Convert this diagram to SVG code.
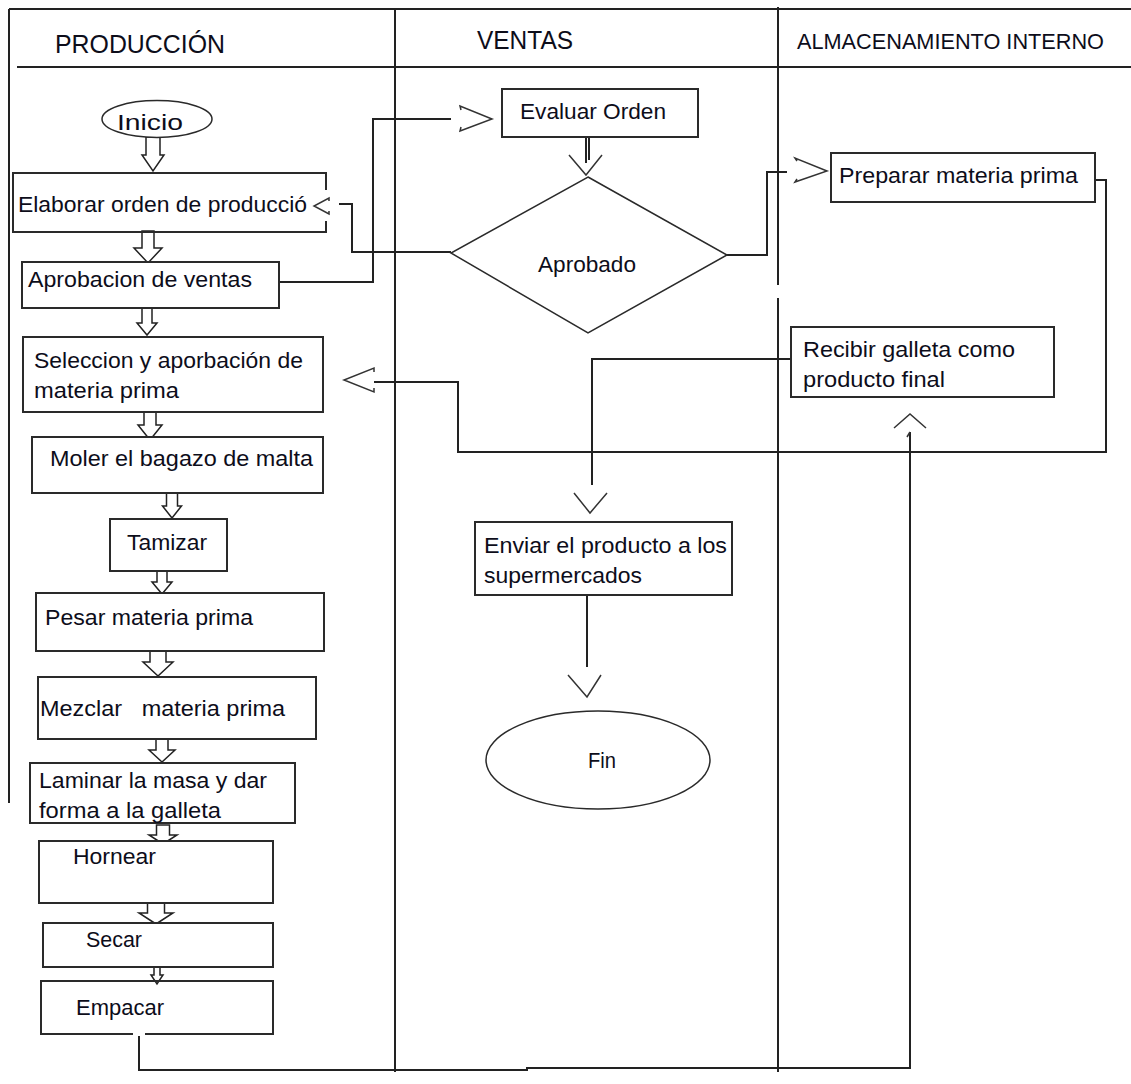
<svg xmlns="http://www.w3.org/2000/svg" width="1131" height="1084" viewBox="0 0 1131 1084">
<style>
  text { font-family: "Liberation Sans", Arial, sans-serif; font-size: 22px; fill: #0d0d1a; }
  .hdr { font-size: 25px; }
  .box { fill: #fff; stroke: #2a2a2a; stroke-width: 2; }
  .open { fill: none; stroke: #2a2a2a; stroke-width: 2; }
  .thin { fill: #fff; stroke: #2a2a2a; stroke-width: 1.5; }
  .lane { stroke: #222; stroke-width: 2; fill: none; }
  .con { stroke: #222; stroke-width: 2; fill: none; }
  .head { stroke: #333; stroke-width: 1.5; fill: none; }
  .blk { fill: #fff; stroke: #222; stroke-width: 1.5; }
</style>
<rect x="0" y="0" width="1131" height="1084" fill="#fff"/>

<g id="lanes">
  <line class="lane" x1="9" y1="9" x2="1131" y2="9"/>
  <line class="lane" x1="9" y1="9" x2="9" y2="803"/>
  <line class="lane" x1="17" y1="67" x2="1131" y2="67"/>
  <line class="lane" x1="395" y1="9" x2="395" y2="1072"/>
  <line class="lane" x1="778" y1="7" x2="778" y2="285"/>
  <line class="lane" x1="778" y1="298" x2="778" y2="1072"/>
  <text class="hdr" x="55" y="53" textLength="170" lengthAdjust="spacingAndGlyphs">PRODUCCIÓN</text>
  <text class="hdr" x="477" y="49" textLength="96" lengthAdjust="spacingAndGlyphs">VENTAS</text>
  <text x="797" y="49" textLength="307" lengthAdjust="spacingAndGlyphs">ALMACENAMIENTO INTERNO</text>
</g>

<g id="connectors">
  <!-- block arrows in Produccion lane -->
  <path class="blk" d="M146,137 L160,137 L160,155 L164,155 L153,171 L142,155 L146,155 Z"/>
  <path class="blk" d="M142,231 L154,231 L154,248 L162,248 L148,263 L134,248 L142,248 Z"/>
  <path class="blk" d="M142,308 L152,308 L152,323 L157,323 L147,335 L137,323 L142,323 Z"/>
  <path class="blk" d="M144,412 L156,412 L156,425 L162,425 L150,440 L138,425 L144,425 Z"/>
  <path class="blk" d="M166.5,493 L177.5,493 L177.5,506 L181.5,506 L172,518 L162.5,506 L166.5,506 Z"/>
  <path class="blk" d="M157,571 L167,571 L167,582 L172,582 L162,594 L152,582 L157,582 Z"/>
  <path class="blk" d="M150,651 L166,651 L166,662 L173,662 L158,676 L143,662 L150,662 Z"/>
  <path class="blk" d="M156,739 L168,739 L168,750 L175,750 L162,762 L149,750 L156,750 Z"/>
  <path class="blk" d="M156.5,825 L169.5,825 L169.5,835 L177,835 L163,844 L149,835 L156.5,835 Z"/>
  <path class="blk" d="M147.5,903 L164.5,903 L164.5,913 L173,913 L156,924 L139,913 L147.5,913 Z"/>
  <path class="blk" d="M154,967 L160,967 L160,975 L163,975 L157,984 L151,975 L154,975 Z"/>

  <!-- Aprobacion de ventas -> Evaluar Orden -->
  <polyline class="con" points="279,282 373,282 373,119 451,119"/>
  <path class="head" d="M461,110 L460,106 L492,119 L460,131 L461,127"/>

  <!-- Evaluar Orden -> Aprobado -->
  <line class="con" x1="586" y1="134" x2="586" y2="163" stroke-width="1.5"/>
  <line class="con" x1="589" y1="134" x2="589" y2="160" stroke-width="1.5"/>
  <path class="head" d="M569,155 L586,175 L602,155"/>

  <!-- Aprobado (left) -> Elaborar orden -->
  <polyline class="con" points="451,252 352,252 352,204 339,204"/>

  <!-- Aprobado (right) -> Preparar materia prima -->
  <polyline class="con" points="727,255 767,255 767,172 787,172"/>
  <path class="head" d="M797,161 L795,158 L827,171 L795,182 L797,179"/>

  <!-- Preparar materia prima -> Seleccion -->
  <polyline class="con" points="1095,180 1106,180 1106,452 458,452 458,382 374,382"/>
  <path class="head" d="M374,372 L374,368 L344,380 L374,392 L374,388" stroke-width="1.8"/>

  <!-- Recibir galleta -> Enviar producto -->
  <polyline class="con" points="791,359 592,359 592,485"/>
  <path class="head" d="M574,493 L590,513 L607,493"/>

  <!-- Enviar -> Fin -->
  <line class="con" x1="587" y1="595" x2="587" y2="667"/>
  <path class="head" d="M568,675 L587,697 L601,675"/>

  <!-- Empacar -> Recibir galleta -->
  <polyline class="con" points="139,1036 139,1070 527,1070 527,1068 910,1068 910,432"/>
  <path class="head" d="M894,428 L910,414 L926,428"/>
  <line class="head" x1="910" y1="432" x2="907" y2="437"/>
</g>

<g id="inicio">
  <ellipse class="thin" cx="157" cy="119" rx="55" ry="18.5"/>
  <text x="117" y="130" font-size="27" textLength="66" lengthAdjust="spacingAndGlyphs">Inicio</text>
</g>

<g id="elaborar">
  <path class="open" d="M326,190 L326,173 L13,173 L13,232 L326,232 L326,221"/>
  <text x="18" y="212" textLength="289" lengthAdjust="spacingAndGlyphs">Elaborar orden de producció</text>
  <path class="head" d="M329,201 L329,198 L314,206 L329,214 L329,211" stroke-width="1.6"/>
</g>

<g id="aprobacion">
  <rect class="box" x="22" y="262" width="257" height="46"/>
  <text x="28" y="287" textLength="224" lengthAdjust="spacingAndGlyphs">Aprobacion de ventas</text>
</g>

<g id="seleccion">
  <rect class="box" x="23" y="337" width="300" height="75"/>
  <text x="34" y="368" textLength="269" lengthAdjust="spacingAndGlyphs">Seleccion y aporbación de</text>
  <text x="34" y="398" textLength="145" lengthAdjust="spacingAndGlyphs">materia prima</text>
</g>

<g id="moler">
  <rect class="box" x="32" y="437" width="291" height="56"/>
  <text x="50" y="466" textLength="263" lengthAdjust="spacingAndGlyphs">Moler el bagazo de malta</text>
</g>

<g id="tamizar">
  <rect class="box" x="110" y="519" width="117" height="52"/>
  <text x="127" y="550" textLength="80" lengthAdjust="spacingAndGlyphs">Tamizar</text>
</g>

<g id="pesar">
  <rect class="box" x="36" y="593" width="288" height="58"/>
  <text x="45" y="625" textLength="208" lengthAdjust="spacingAndGlyphs">Pesar materia prima</text>
</g>

<g id="mezclar">
  <rect class="box" x="38" y="677" width="278" height="62"/>
  <text x="40" y="716" style="white-space:pre" textLength="245" lengthAdjust="spacingAndGlyphs">Mezclar   materia prima</text>
</g>

<g id="laminar">
  <rect class="box" x="30" y="763" width="265" height="60"/>
  <text x="39" y="788" textLength="228" lengthAdjust="spacingAndGlyphs">Laminar la masa y dar</text>
  <text x="39" y="818" textLength="182" lengthAdjust="spacingAndGlyphs">forma a la galleta</text>
</g>

<g id="hornear">
  <rect class="box" x="39" y="841" width="234" height="62"/>
  <text x="73" y="864" textLength="83" lengthAdjust="spacingAndGlyphs">Hornear</text>
</g>

<g id="secar">
  <rect class="box" x="43" y="923" width="230" height="44"/>
  <text x="86" y="947" textLength="56" lengthAdjust="spacingAndGlyphs">Secar</text>
</g>

<g id="empacar">
  <path class="open" d="M133,1034 L41,1034 L41,981 L273,981 L273,1034 L145,1034"/>
  <text x="76" y="1015" textLength="88" lengthAdjust="spacingAndGlyphs">Empacar</text>
</g>

<g id="evaluar">
  <rect class="box" x="502" y="89" width="196" height="48"/>
  <text x="520" y="119" textLength="146" lengthAdjust="spacingAndGlyphs">Evaluar Orden</text>
</g>

<g id="aprobado">
  <polygon class="thin" points="588,177 727,255 588,333 451,253"/>
  <text x="538" y="272" textLength="98" lengthAdjust="spacingAndGlyphs">Aprobado</text>
</g>

<g id="enviar">
  <rect class="box" x="475" y="522" width="257" height="73"/>
  <text x="484" y="553" textLength="243" lengthAdjust="spacingAndGlyphs">Enviar el producto a los</text>
  <text x="484" y="583" textLength="158" lengthAdjust="spacingAndGlyphs">supermercados</text>
</g>

<g id="fin">
  <ellipse class="thin" cx="598" cy="760" rx="112" ry="49"/>
  <text x="588" y="768" textLength="28" lengthAdjust="spacingAndGlyphs">Fin</text>
</g>

<g id="preparar">
  <rect class="box" x="831" y="153" width="264" height="49"/>
  <text x="839" y="183" textLength="239" lengthAdjust="spacingAndGlyphs">Preparar materia prima</text>
</g>

<g id="recibir">
  <rect class="box" x="791" y="327" width="263" height="70"/>
  <text x="803" y="357" textLength="212" lengthAdjust="spacingAndGlyphs">Recibir galleta como</text>
  <text x="803" y="387" textLength="142" lengthAdjust="spacingAndGlyphs">producto final</text>
</g>
</svg>
